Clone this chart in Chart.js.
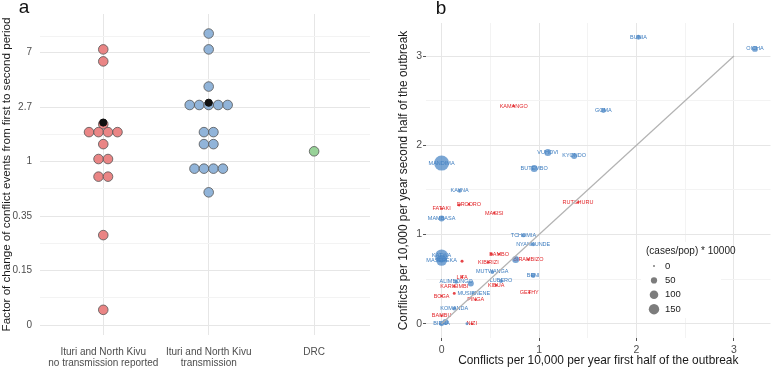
<!DOCTYPE html>
<html>
<head>
<meta charset="utf-8">
<script src="https://cdn.jsdelivr.net/npm/chart.js@4.4.1/dist/chart.umd.min.js"></script>
<style>
html, body { margin: 0; padding: 0; background: #fff; }
#wrapA { position: absolute; left: 0; top: 0; width: 390px; height: 369px; }
#wrapB { position: absolute; left: 390px; top: 0; width: 388px; height: 369px; }
</style>
</head>
<body>
<div id="wrapA"><canvas id="chartA"></canvas></div>
<div id="wrapB"><canvas id="chartB"></canvas></div>
<script>
// ---- panel a: factor of change per health zone ----
var groupLabels = [['Ituri and North Kivu', 'no transmission reported'], ['Ituri and North Kivu', 'transmission'], ['DRC']];
var noTransFactor = [7.85, 6.3, 1.99, 1.72, 1.72, 1.72, 1.72, 1.38, 1.05, 1.05, 0.76, 0.76, 0.26, 0.066];
var transFactor = [10.5, 7.85, 3.97, 2.83, 2.83, 2.83, 2.83, 2.83, 1.72, 1.72, 1.38, 1.38, 0.88, 0.88, 0.88, 0.88, 0.57];
var drcFactor = [1.21];
var meanFactor = [2.05, 2.95];
var factorTicks = [-3, -2, -1, 0, 1, 2];            // natural log positions
var factorTickLabels = ['0', '0.15', '0.35', '1', '2.7', '7'];
var factorMinor = [-2.5, -1.5, -0.5, 0.5, 1.5, 2.3];

// ---- panel b: conflicts per 10,000 per year ----
var transNames = ['BUNIA', 'OICHA', 'GOMA', 'VUHOVI', 'KYONDO', 'MANDIMA', 'BUTEMBO', 'KAYNA', 'MAMBASA', 'TCHOMIA', 'NYANKUNDE', 'KATWA', 'MASEREKA', '', 'MUTWANGA', 'BENI', 'ALIMBONGO', '', 'LUBERO', 'MUSIENENE', 'KOMANDA', 'BIENA', '', ''];
var transFirst = [2.02, 3.215, 1.66, 1.09, 1.36, 0, 0.95, 0.185, 0, 0.84, 0.94, 0, 0, 0.76, 0.52, 0.94, 0.15, 0.30, 0.61, 0.33, 0.13, 0, 0.04, 0.26];
var transSecond = [3.21, 3.08, 2.39, 1.92, 1.88, 1.80, 1.74, 1.49, 1.18, 0.99, 0.89, 0.76, 0.71, 0.72, 0.58, 0.54, 0.47, 0.45, 0.48, 0.34, 0.17, 0, 0.02, 0];
var transCases = [30, 46, 30, 65, 46, 318, 65, 17, 46, 17, 17, 238, 168, 65, 17, 30, 17, 46, 17, 17, 17, 30, 46, 7];

var noTransNames = ['KAMANGO', 'RUTSHURU', 'FATAKI', '', 'DRODRO', 'MASISI', '', 'BAMBO', 'KIBIRIZI', '', 'BIRAMBIZO', 'LITA', 'KARISIMBI', 'KIBUA', 'GETHY', 'BOGA', '', 'PINGA', 'BAMBU', 'NIZI'];
var noTransFirst = [0.74, 1.40, 0, 0.18, 0.28, 0.54, 0.51, 0.59, 0.48, 0.21, 0.89, 0.21, 0.13, 0.56, 0.90, 0, 0.13, 0.35, 0, 0.31];
var noTransSecond = [2.44, 1.36, 1.29, 1.33, 1.34, 1.24, 0.78, 0.78, 0.69, 0.70, 0.72, 0.52, 0.42, 0.43, 0.35, 0.31, 0.34, 0.27, 0.09, 0];
var noTransCases = [3, 3, 3, 7, 3, 3, 7, 3, 3, 7, 3, 3, 3, 3, 3, 3, 7, 3, 3, 3];

var sizeLegend = [0, 50, 100, 150];

Chart.defaults.font.family = "'Liberation Sans', Arial, sans-serif";
Chart.defaults.color = '#4d4d4d';

var MAJOR_GRID = '#e6e6e6';
var MINOR_GRID = '#f3f3f3';
var DOT_STEP = 0.09;

function beeswarm(values, center) {
  var rows = {};
  var order = [];
  values.forEach(function (v) {
    var k = v.toFixed(4);
    if (!rows[k]) { rows[k] = []; order.push(k); }
    rows[k].push(Math.log(v));
  });
  var pts = [];
  order.forEach(function (k) {
    var row = rows[k];
    row.forEach(function (y, i) {
      pts.push({ x: center + (i - (row.length - 1) / 2) * DOT_STEP, y: y });
    });
  });
  return pts;
}

function dotSet(values, center, fill) {
  return {
    data: beeswarm(values, center),
    pointRadius: 4.8,
    pointHoverRadius: 4.8,
    pointBackgroundColor: fill,
    pointBorderColor: '#555555',
    pointBorderWidth: 0.8
  };
}

var panelLetter = function (letter, x, y) {
  return {
    id: 'panelLetter' + letter,
    afterDraw: function (chart) {
      var ctx = chart.ctx;
      ctx.save();
      ctx.fillStyle = '#111';
      ctx.font = "19px 'Liberation Sans', Arial, sans-serif";
      ctx.textAlign = 'center';
      ctx.textBaseline = 'middle';
      ctx.fillText(letter, x, y);
      ctx.restore();
    }
  };
};

var chartA = new Chart(document.getElementById('chartA'), {
  type: 'scatter',
  data: {
    datasets: [
      Object.assign(dotSet(noTransFactor, 1, 'rgba(233,126,126,0.95)'), { order: 2 }),
      Object.assign(dotSet(transFactor, 2, 'rgba(139,176,215,0.95)'), { order: 2 }),
      Object.assign(dotSet(drcFactor, 3, 'rgba(146,208,146,0.95)'), { order: 2 }),
      {
        data: meanFactor.map(function (v, i) { return { x: i + 1, y: Math.log(v) }; }),
        pointRadius: 3.6,
        pointBackgroundColor: '#111',
        pointBorderColor: '#111',
        order: 1
      }
    ]
  },
  options: {
    animation: false,
    responsive: true,
    maintainAspectRatio: false,
    layout: { padding: { left: 0, right: 20, top: 9, bottom: 0 } },
    plugins: { legend: { display: false }, tooltip: { enabled: false } },
    scales: {
      x: {
        type: 'linear',
        min: 0.4,
        max: 3.53,
        afterBuildTicks: function (s) { s.ticks = [1, 2, 3].map(function (v) { return { value: v }; }); },
        afterFit: function (s) { s.height = 34; },
        ticks: {
          autoSkip: false,
          maxRotation: 0,
          padding: 12,
          color: '#4d4d4d',
          font: { size: 10, lineHeight: 1.1 },
          callback: function (v) { return groupLabels[v - 1]; }
        },
        grid: { color: MAJOR_GRID, drawTicks: false },
        border: { display: false }
      },
      y: {
        type: 'linear',
        min: -3.18,
        max: 2.71,
        afterBuildTicks: function (s) {
          s.ticks = factorTicks.concat(factorMinor).sort(function (a, b) { return a - b; }).map(function (v) { return { value: v }; });
        },
        afterFit: function (s) { s.width = 40; },
        ticks: {
          autoSkip: false,
          padding: 8,
          color: '#4d4d4d',
          font: { size: 10 },
          callback: function (v) {
            var i = factorTicks.indexOf(v);
            return i < 0 ? '' : factorTickLabels[i];
          }
        },
        grid: {
          drawTicks: false,
          color: function (c) { return factorTicks.indexOf(c.tick.value) < 0 ? MINOR_GRID : MAJOR_GRID; }
        },
        border: { display: false },
        title: {
          display: true,
          text: 'Factor of change of conflict events from first to second period',
          color: '#1a1a1a',
          padding: 0,
          font: { size: 11.6 }
        }
      }
    }
  },
  plugins: [panelLetter('a', 24, 8)]
});

// ---- panel b ----
function bubbleRadius(v) {
  return Math.sqrt(1 + 26 * v / 150);
}

function zoneSet(first, second, cases, names, fill) {
  return {
    data: first.map(function (x, i) { return { x: x, y: second[i] }; }),
    names: names,
    labelColor: fill.text,
    pointRadius: function (c) { return bubbleRadius(cases[c.dataIndex]); },
    pointHoverRadius: function (c) { return bubbleRadius(cases[c.dataIndex]); },
    pointBackgroundColor: fill.dot,
    pointBorderWidth: 0,
    order: 2
  };
}

var zoneLabels = {
  id: 'zoneLabels',
  beforeDatasetsDraw: function (chart) {
    var ctx = chart.ctx;
    ctx.save();
    ctx.font = "5.5px 'Liberation Sans', Arial, sans-serif";
    ctx.textAlign = 'center';
    ctx.textBaseline = 'middle';
    chart.data.datasets.forEach(function (ds, di) {
      if (!ds.names) return;
      var meta = chart.getDatasetMeta(di);
      ctx.fillStyle = ds.labelColor;
      meta.data.forEach(function (el, i) {
        if (ds.names[i]) ctx.fillText(ds.names[i], el.x, el.y);
      });
    });
    ctx.restore();
  }
};

var sizeKey = {
  id: 'sizeKey',
  afterDraw: function (chart) {
    var ctx = chart.ctx;
    ctx.save();
    ctx.fillStyle = '#fff';
    ctx.fillRect(251, 242, 80, 76);
    ctx.fillStyle = '#1a1a1a';
    ctx.font = "10px 'Liberation Sans', Arial, sans-serif";
    ctx.textBaseline = 'middle';
    ctx.textAlign = 'left';
    ctx.fillText('(cases/pop) * 10000', 256, 251);
    sizeLegend.forEach(function (v, i) {
      var cy = 266 + i * 14.4;
      ctx.beginPath();
      ctx.arc(264, cy, bubbleRadius(v), 0, Math.PI * 2);
      ctx.fillStyle = 'rgba(80,80,80,0.75)';
      ctx.fill();
      ctx.fillStyle = '#1a1a1a';
      ctx.font = "9.5px 'Liberation Sans', Arial, sans-serif";
      ctx.fillText(String(v), 275, cy);
    });
    ctx.restore();
  }
};

function isMajor(v) { return Math.abs(v - Math.round(v)) < 1e-6; }

var chartB = new Chart(document.getElementById('chartB'), {
  type: 'scatter',
  data: {
    datasets: [
      {
        type: 'line',
        data: [{ x: 0, y: 0 }, { x: 3, y: 3 }],
        borderColor: '#b3b3b3',
        borderWidth: 1.2,
        pointRadius: 0,
        order: 1
      },
      zoneSet(transFirst, transSecond, transCases, transNames, { dot: 'rgba(70,132,196,0.72)', text: '#3c7cbf' }),
      zoneSet(noTransFirst, noTransSecond, noTransCases, noTransNames, { dot: 'rgba(226,36,40,0.85)', text: '#e2262a' })
    ]
  },
  options: {
    animation: false,
    responsive: true,
    maintainAspectRatio: false,
    layout: { padding: { left: 0, right: 2, top: 23, bottom: 0 } },
    plugins: { legend: { display: false }, tooltip: { enabled: false } },
    scales: {
      x: {
        type: 'linear',
        min: -0.16,
        max: 3.375,
        afterBuildTicks: function (s) { s.ticks = [0, 0.5, 1, 1.5, 2, 2.5, 3].map(function (v) { return { value: v }; }); },
        afterFit: function (s) { s.height = 31; },
        ticks: {
          autoSkip: false,
          maxRotation: 0,
          padding: 3,
          color: '#4d4d4d',
          font: { size: 10.5 },
          callback: function (v) { return isMajor(v) ? String(v) : ''; }
        },
        grid: {
          tickLength: 3,
          color: function (c) { return isMajor(c.tick.value) ? MAJOR_GRID : MINOR_GRID; },
          tickColor: function (c) { return isMajor(c.tick.value) ? '#555' : 'rgba(0,0,0,0)'; }
        },
        border: { display: false },
        title: {
          display: true,
          text: 'Conflicts per 10,000 per year first half of the outbreak',
          color: '#1a1a1a',
          padding: { top: 0, bottom: 1 },
          font: { size: 11.9 }
        }
      },
      y: {
        type: 'linear',
        min: -0.16,
        max: 3.37,
        afterBuildTicks: function (s) { s.ticks = [0, 0.5, 1, 1.5, 2, 2.5, 3].map(function (v) { return { value: v }; }); },
        afterFit: function (s) { s.width = 36; },
        ticks: {
          autoSkip: false,
          padding: 1,
          color: '#4d4d4d',
          font: { size: 10.5 },
          callback: function (v) { return isMajor(v) ? String(v) : ''; }
        },
        grid: {
          tickLength: 3,
          color: function (c) { return isMajor(c.tick.value) ? MAJOR_GRID : MINOR_GRID; },
          tickColor: function (c) { return isMajor(c.tick.value) ? '#555' : 'rgba(0,0,0,0)'; }
        },
        border: { display: false },
        title: {
          display: true,
          text: 'Conflicts per 10,000 per year second half of the outbreak',
          color: '#1a1a1a',
          padding: { top: 7, bottom: 0 },
          font: { size: 11.9 }
        }
      }
    }
  },
  plugins: [zoneLabels, sizeKey, panelLetter('b', 51, 9)]
});
</script>
</body>
</html>
